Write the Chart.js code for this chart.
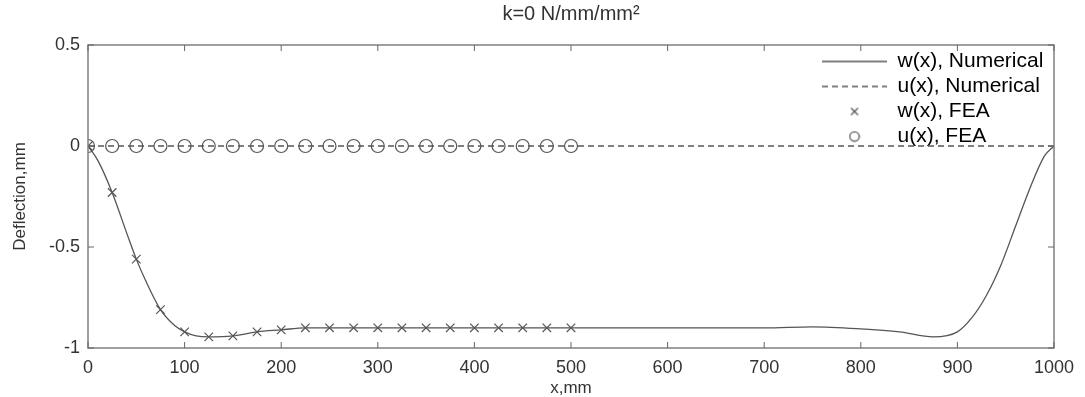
<!DOCTYPE html>
<html>
<head>
<meta charset="utf-8">
<script src="https://cdn.jsdelivr.net/npm/chart.js@4"></script>
<style>
  body { margin: 0; background: #fff; }
  #wrap { width: 1085px; height: 397px; }
</style>
</head>
<body>
<div id="wrap"><canvas id="deflection-chart"></canvas></div>
<script>
// w(x) numerique
const xNum = [0, 10, 25, 40, 50, 60, 75, 90, 100, 112, 125, 150, 175, 200, 225, 250, 300, 400, 500, 600, 700, 750, 800, 840, 875, 900, 915, 930, 945, 960, 975, 990, 1000];
const wNum = [0, -0.07, -0.23, -0.43, -0.56, -0.67, -0.81, -0.89, -0.92, -0.94, -0.945, -0.94, -0.92, -0.91, -0.90, -0.90, -0.90, -0.90, -0.90, -0.90, -0.90, -0.895, -0.905, -0.92, -0.945, -0.92, -0.85, -0.74, -0.59, -0.40, -0.21, -0.05, 0];

// u(x) numerique
const xU = [0, 1000];
const uNum = [0, 0];

// points FEA
const xFea = [0, 25, 50, 75, 100, 125, 150, 175, 200, 225, 250, 275, 300, 325, 350, 375, 400, 425, 450, 475, 500];
const wFea = [0, -0.23, -0.56, -0.81, -0.92, -0.945, -0.94, -0.92, -0.91, -0.90, -0.90, -0.90, -0.90, -0.90, -0.90, -0.90, -0.90, -0.90, -0.90, -0.90, -0.90];
const uFea = [0, 0, 0, 0, 0, 0, 0, 0, 0, 0, 0, 0, 0, 0, 0, 0, 0, 0, 0, 0, 0];

// ticks
const xTicks = [0, 100, 200, 300, 400, 500, 600, 700, 800, 900, 1000];
const yTicks = [-1, -0.5, 0, 0.5];

const toPts = (xs, ys) => xs.map((x, i) => ({ x: x, y: ys[i] }));

const ink = '#555';
const textCol = '#333';

// petites icones pour la legende (trait plein, pointille, croix, cercle)
function makeIcon(w, h, draw) {
    const c = document.createElement('canvas');
    c.width = w; c.height = h;
    const g = c.getContext('2d');
    g.strokeStyle = ink;
    g.lineWidth = 1.3;
    draw(g, w, h);
    return c;
}
const legendIcons = [
    makeIcon(65, 4, (g, w) => { g.beginPath(); g.moveTo(0, 2); g.lineTo(w, 2); g.stroke(); }),
    makeIcon(65, 4, (g, w) => { g.setLineDash([6, 4]); g.beginPath(); g.moveTo(0, 2); g.lineTo(w, 2); g.stroke(); }),
    makeIcon(10, 10, (g) => { g.beginPath(); g.moveTo(1.5, 1.5); g.lineTo(8.5, 8.5); g.moveTo(8.5, 1.5); g.lineTo(1.5, 8.5); g.stroke(); }),
    makeIcon(12, 12, (g) => { g.beginPath(); g.arc(6, 6, 4.7, 0, Math.PI * 2); g.stroke(); })
];

// cadre + ticks vers l'interieur (style matlab)
const framePlugin = {
    id: 'frame',
    afterDatasetsDraw(chart) {
        const { ctx, chartArea: a, scales } = chart;
        ctx.save();
        ctx.strokeStyle = '#808080';
        ctx.lineWidth = 1.5;
        ctx.strokeRect(a.left, a.top, a.right - a.left, a.bottom - a.top);
        ctx.lineWidth = 1;
        ctx.strokeStyle = '#666';
        ctx.beginPath();
        xTicks.forEach(v => {
            const px = scales.x.getPixelForValue(v);
            ctx.moveTo(px, a.bottom); ctx.lineTo(px, a.bottom - 6);
            ctx.moveTo(px, a.top); ctx.lineTo(px, a.top + 6);
        });
        yTicks.forEach(v => {
            const py = scales.y.getPixelForValue(v);
            ctx.moveTo(a.left, py); ctx.lineTo(a.left + 6, py);
            ctx.moveTo(a.right, py); ctx.lineTo(a.right - 6, py);
        });
        ctx.stroke();
        ctx.restore();
    }
};

// placer la legende en haut a droite dans la zone du graphique
const legendPlace = {
    id: 'legendPlace',
    afterLayout(chart) {
        const lg = chart.legend;
        const a = chart.chartArea;
        const w = lg.width;
        const h = lg.height;
        lg.left = a.right - 236;
        lg.right = lg.left + w;
        lg.top = a.top + 2;
        lg.bottom = lg.top + h;
    }
};

const ctx = document.getElementById('deflection-chart').getContext('2d');
const chart = new Chart(ctx, {
    type: 'scatter',
    data: {
        datasets: [
            {
                label: 'w(x), Numerical',
                data: toPts(xNum, wNum),
                showLine: true,
                borderColor: ink,
                borderWidth: 1.3,
                pointRadius: 0,
                cubicInterpolationMode: 'monotone'
            },
            {
                label: 'u(x), Numerical',
                data: toPts(xU, uNum),
                showLine: true,
                borderColor: ink,
                borderWidth: 1.3,
                borderDash: [6, 4],
                pointRadius: 0
            },
            {
                label: 'w(x), FEA',
                data: toPts(xFea, wFea),
                showLine: false,
                borderColor: ink,
                backgroundColor: 'rgba(0,0,0,0)',
                borderWidth: 1.2,
                pointStyle: 'crossRot',
                pointRadius: 6
            },
            {
                label: 'u(x), FEA',
                data: toPts(xFea, uFea),
                showLine: false,
                borderColor: ink,
                backgroundColor: 'rgba(0,0,0,0)',
                borderWidth: 1.2,
                pointStyle: 'circle',
                pointRadius: 6.5
            }
        ]
    },
    options: {
        responsive: true,
        maintainAspectRatio: false,
        animation: false,
        layout: { padding: { left: 0, right: 31, top: 0, bottom: 0 } },
        plugins: {
            title: {
                display: true,
                fullSize: false,
                text: 'k=0 N/mm/mm²',
                color: textCol,
                font: { family: 'Liberation Sans', size: 20, weight: 'normal' },
                padding: { top: 2, bottom: 19 }
            },
            legend: {
                position: 'chartArea',
                align: 'start',
                labels: {
                    usePointStyle: true,
                    pointStyleWidth: 65,
                    boxHeight: 7,
                    padding: 4,
                    color: textCol,
                    font: { family: 'Liberation Sans', size: 21 },
                    generateLabels: (c) => c.data.datasets.map((ds, i) => ({
                        text: ds.label,
                        pointStyle: legendIcons[i],
                        fillStyle: 'rgba(0,0,0,0)',
                        strokeStyle: ink,
                        lineWidth: 0,
                        hidden: false,
                        datasetIndex: i
                    }))
                }
            },
            tooltip: { enabled: false }
        },
        scales: {
            x: {
                type: 'linear',
                min: 0,
                max: 1000,
                afterFit: s => { s.height = 49; },
                afterBuildTicks: s => { s.ticks = xTicks.map(v => ({ value: v })); },
                grid: { display: false, drawTicks: false },
                border: { display: false },
                ticks: {
                    padding: 9,
                    color: textCol,
                    font: { family: 'Liberation Sans', size: 18 },
                    callback: v => String(v)
                },
                title: {
                    display: true,
                    text: 'x,mm',
                    color: textCol,
                    font: { family: 'Liberation Sans', size: 17 },
                    padding: { top: 0, bottom: -2 }
                }
            },
            y: {
                type: 'linear',
                min: -1,
                max: 0.5,
                afterFit: s => { s.width = 88; },
                afterBuildTicks: s => { s.ticks = yTicks.map(v => ({ value: v })); },
                grid: { display: false, drawTicks: false },
                border: { display: false },
                ticks: {
                    padding: 8,
                    color: textCol,
                    font: { family: 'Liberation Sans', size: 18 },
                    callback: v => String(v)
                },
                title: {
                    display: true,
                    text: 'Deflection,mm',
                    color: textCol,
                    font: { family: 'Liberation Sans', size: 17 },
                    padding: { top: 10, bottom: 0 }
                }
            }
        }
    },
    plugins: [framePlugin, legendPlace]
});
</script>
</body>
</html>
